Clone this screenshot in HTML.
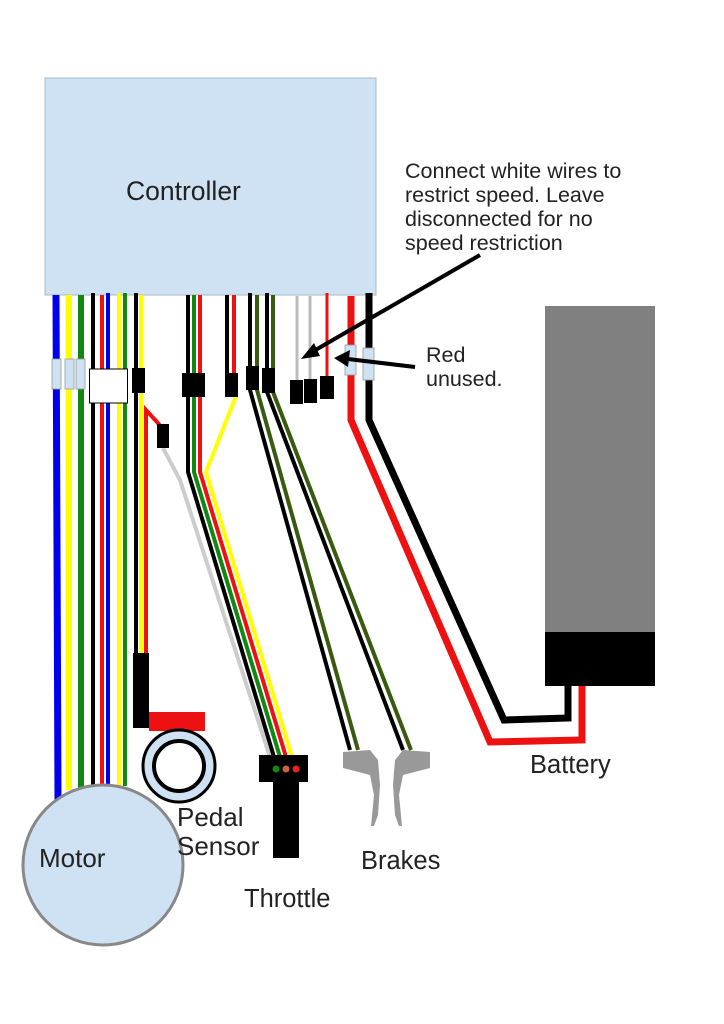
<!DOCTYPE html>
<html><head><meta charset="utf-8"><style>
html,body{margin:0;padding:0;background:#fff;}
svg{display:block;}
text{font-family:"Liberation Sans",Arial,sans-serif;fill:#222;}
</style></head><body>
<svg width="724" height="1024" viewBox="0 0 724 1024" xmlns="http://www.w3.org/2000/svg">
<rect x="0" y="0" width="724" height="1024" fill="#fff"/>
<rect x="45" y="78" width="331" height="217" fill="#cfe2f3" stroke="#a9b8c4" stroke-width="1"/>
<text x="126" y="200" font-size="26.5">Controller</text>
<text x="405" y="178" font-size="21.5">Connect white wires to</text>
<text x="405" y="202" font-size="21.5">restrict speed. Leave</text>
<text x="405" y="226" font-size="21.5">disconnected for no</text>
<text x="405" y="250" font-size="21.5">speed restriction</text>
<text x="426" y="362" font-size="21.5">Red</text>
<text x="426" y="386" font-size="21.5">unused.</text>

<rect x="545" y="306" width="110" height="326" fill="#808080"/>
<rect x="545" y="632" width="110" height="54" fill="#000"/>
<text x="530" y="773" font-size="25.5">Battery</text>

<g fill="none" stroke-linejoin="miter">
<line x1="56" y1="295" x2="58" y2="800" stroke="#0000ee" stroke-width="7"/>
<line x1="69" y1="295" x2="69" y2="790" stroke="#ffff00" stroke-width="6"/>
<line x1="81" y1="295" x2="81" y2="788" stroke="#118811" stroke-width="6"/>
<line x1="93" y1="293" x2="93" y2="786" stroke="#000" stroke-width="4"/>
<line x1="102" y1="295" x2="102" y2="786" stroke="#ee1111" stroke-width="4"/>
<line x1="108" y1="293" x2="108" y2="786" stroke="#0000ee" stroke-width="4"/>
<line x1="119" y1="293" x2="119" y2="786" stroke="#ffff00" stroke-width="4"/>
<line x1="125" y1="293" x2="125" y2="786" stroke="#118811" stroke-width="4"/>
<line x1="136" y1="293" x2="136" y2="655" stroke="#000" stroke-width="4"/>
<line x1="141" y1="295" x2="141" y2="655" stroke="#ffff00" stroke-width="4"/>
<polyline points="146,655 146,410 157,422 162,428" stroke="#ee1111" stroke-width="4"/>
<polyline points="163,448 180,480 270,757" stroke="#cccccc" stroke-width="4"/>
<polyline points="188,295 188,472 274,757" stroke="#000" stroke-width="4"/>
<polyline points="194,295 194,472 280,757" stroke="#118811" stroke-width="4"/>
<polyline points="200,295 200,472 286,757" stroke="#ee1111" stroke-width="4"/>
<polyline points="236,396 206,472 292,757" stroke="#ffff00" stroke-width="4"/>
<line x1="227" y1="295" x2="227" y2="375" stroke="#000" stroke-width="4"/>
<line x1="234" y1="295" x2="234" y2="375" stroke="#ee1111" stroke-width="4"/>
<polyline points="250,293 250,390 350,750" stroke="#000" stroke-width="4"/>
<polyline points="257,295 257,390 358,750" stroke="#3a5a10" stroke-width="4"/>
<polyline points="267,293 267,392 403,750" stroke="#000" stroke-width="4"/>
<polyline points="273,295 273,392 411,750" stroke="#3a5a10" stroke-width="4"/>
<line x1="297" y1="296" x2="297" y2="382" stroke="#bbbbbb" stroke-width="3"/>
<line x1="310" y1="296" x2="310" y2="382" stroke="#bbbbbb" stroke-width="3"/>
<line x1="327" y1="293" x2="327" y2="378" stroke="#ee1111" stroke-width="3"/>
<polyline points="351,296 351,420 490,742 582,740 582,686" stroke="#ee1111" stroke-width="7"/>
<polyline points="369,293 369,420 504,720 568,718 568,686" stroke="#000" stroke-width="7"/>
</g>

<rect x="52" y="359" width="9" height="30" fill="#cfe2f3" stroke="#999" stroke-width="0.8"/>
<rect x="65" y="359" width="9" height="30" fill="#cfe2f3" stroke="#999" stroke-width="0.8"/>
<rect x="76" y="359" width="9" height="30" fill="#cfe2f3" stroke="#999" stroke-width="0.8"/>
<rect x="89.5" y="369" width="38" height="34" fill="#fff" stroke="#000" stroke-width="1"/>
<rect x="132" y="368" width="13" height="25" fill="#000"/>
<rect x="157" y="424" width="12" height="24" fill="#000"/>
<rect x="182" y="373" width="23" height="24" fill="#000"/>
<rect x="225" y="373" width="13" height="24" fill="#000"/>
<rect x="246" y="366" width="13" height="24" fill="#000"/>
<rect x="262" y="368" width="13" height="25" fill="#000"/>
<rect x="290" y="380" width="13" height="24" fill="#000"/>
<rect x="304" y="379" width="13" height="24" fill="#000"/>
<rect x="320" y="376" width="14" height="23" fill="#000"/>
<rect x="345" y="345" width="11" height="30" fill="#cfe2f3" stroke="#999" stroke-width="0.8"/>
<rect x="363" y="348" width="11" height="32" fill="#cfe2f3" stroke="#999" stroke-width="0.8"/>

<line x1="480" y1="255" x2="312" y2="352" stroke="#000" stroke-width="4"/>
<polygon points="301,359 314,343 320,356" fill="#000"/>
<line x1="415" y1="367" x2="348" y2="359" stroke="#000" stroke-width="4"/>
<polygon points="334,358 350,350 348,367" fill="#000"/>

<rect x="133" y="653" width="16" height="75" fill="#000"/>
<rect x="149" y="712" width="56" height="19" fill="#ee1111"/>
<circle cx="179" cy="766" r="36" fill="#cfe2f3" stroke="#000" stroke-width="3"/>
<circle cx="179" cy="766" r="25" fill="#fff" stroke="#000" stroke-width="4"/>

<circle cx="103" cy="865" r="80" fill="#cfe2f3" stroke="#888" stroke-width="3"/>
<text x="39" y="867" font-size="26">Motor</text>
<text x="177" y="826" font-size="26">Pedal</text>
<text x="177" y="855" font-size="26">Sensor</text>

<rect x="259" y="755" width="49" height="27" fill="#000"/>
<circle cx="276" cy="769" r="3.5" fill="#118811"/>
<circle cx="286" cy="769" r="3.5" fill="#d06040"/>
<circle cx="296" cy="769" r="3.5" fill="#ee2222"/>
<rect x="273" y="782" width="26" height="76" fill="#000"/>
<text x="244" y="907" font-size="25.5">Throttle</text>

<path d="M343,752 L370,750 L378,760 L380,785 L378,815 L374,826 L371,826 L374,795 L370,775 L343,768 Z" fill="#999"/>
<path d="M430,752 L403,750 L395,760 L393,785 L395,815 L399,826 L402,826 L399,795 L403,775 L430,768 Z" fill="#999"/>
<text x="361" y="869" font-size="25.5">Brakes</text>
</svg>
</body></html>
